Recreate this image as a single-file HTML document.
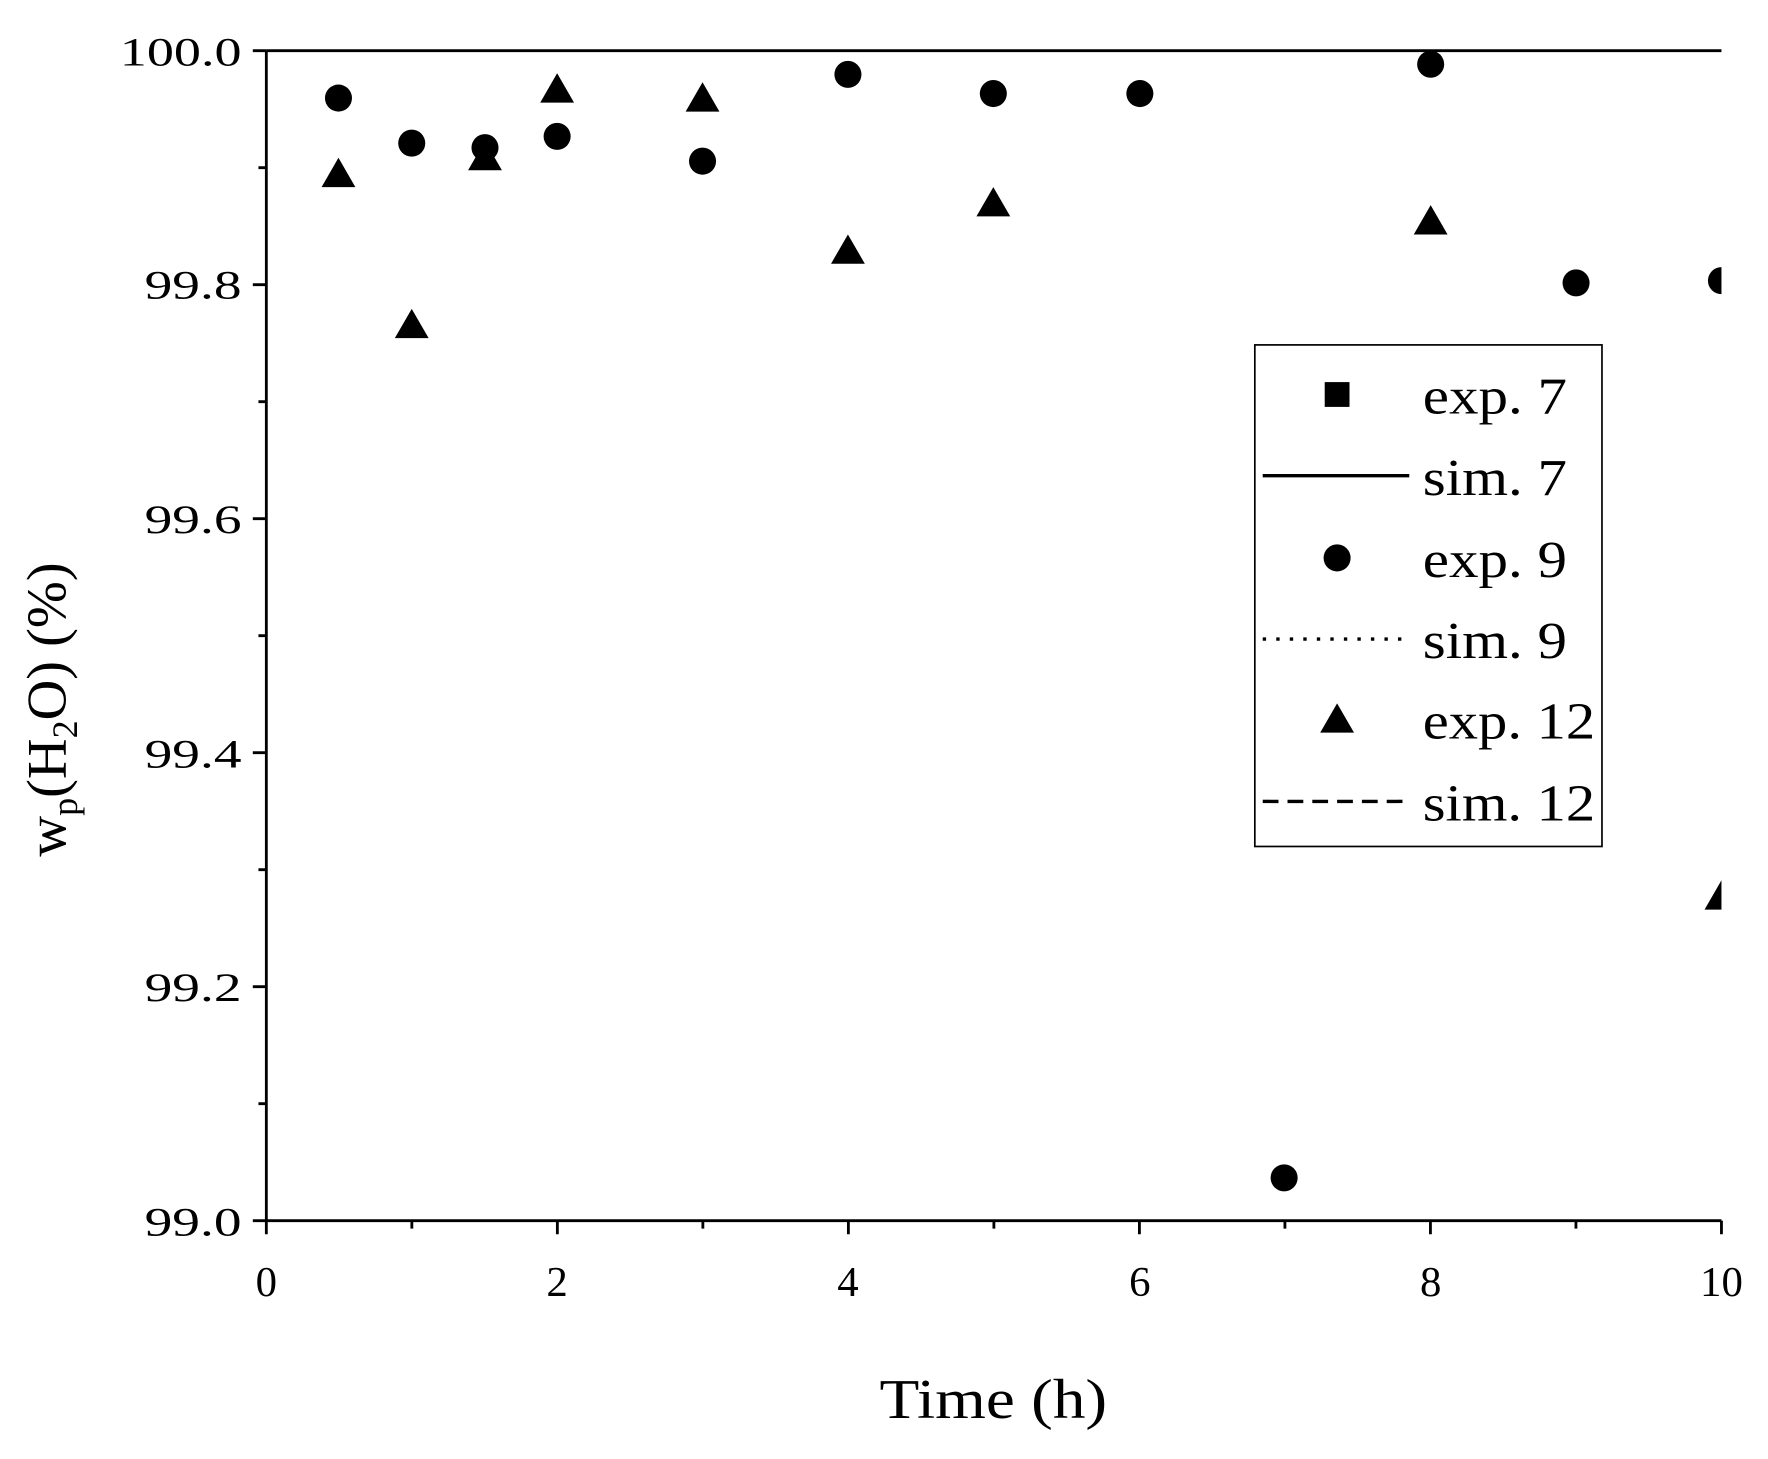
<!DOCTYPE html>
<html><head><style>body{margin:0;background:#fff}</style></head><body>
<svg width="1768" height="1454" viewBox="0 0 1568 1290" xmlns="http://www.w3.org/2000/svg" font-family="Liberation Serif, serif">
<defs><clipPath id="c"><rect x="236" y="20" width="1291" height="1063"/></clipPath>
<symbol id="t" overflow="visible"><polygon points="0,-14 15,12 -15,12" fill="#000"/></symbol></defs>
<g stroke="#000" stroke-width="2.5" fill="none">
<line x1="236" y1="45" x2="1527" y2="45"/>
<line x1="236" y1="45" x2="236" y2="1083"/>
<line x1="236" y1="1083" x2="1527" y2="1083"/>
<path d="M236,45h-12M236,252.6h-12M236,460.2h-12M236,667.8h-12M236,875.4h-12M236,1083h-12M236,148.8h-7M236,356.4h-7M236,564h-7M236,771.6h-7M236,979.2h-7"/>
<path d="M236,1083v12M494.2,1083v12M752.4,1083v12M1010.6,1083v12M1268.8,1083v12M1527,1083v12M365.1,1083v7M623.3,1083v7M881.5,1083v7M1139.7,1083v7M1397.9,1083v7"/>
</g>
<g font-size="36" text-anchor="end" lengthAdjust="spacingAndGlyphs">
<text x="214" y="58" textLength="108" lengthAdjust="spacingAndGlyphs">100.0</text><text x="214" y="265" textLength="86" lengthAdjust="spacingAndGlyphs">99.8</text><text x="214" y="473" textLength="86" lengthAdjust="spacingAndGlyphs">99.6</text><text x="214" y="681" textLength="86" lengthAdjust="spacingAndGlyphs">99.4</text><text x="214" y="888" textLength="86" lengthAdjust="spacingAndGlyphs">99.2</text><text x="214" y="1096" textLength="86" lengthAdjust="spacingAndGlyphs">99.0</text>
</g>
<g font-size="38" text-anchor="middle">
<text x="236" y="1150">0</text><text x="494" y="1150">2</text><text x="752" y="1150">4</text><text x="1011" y="1150">6</text><text x="1269" y="1150">8</text><text x="1527" y="1150">10</text>
</g>
<text x="780" y="1258" font-size="50" textLength="202" lengthAdjust="spacingAndGlyphs">Time (h)</text>
<text transform="translate(58,760) rotate(-90)" font-size="50">w<tspan font-size="32" dy="10">p</tspan><tspan dy="-10">(H</tspan><tspan font-size="32" dy="10">2</tspan><tspan dy="-10">O) (%)</tspan></text>
<g clip-path="url(#c)" fill="#000">
<circle cx="300" cy="87" r="12"/><circle cx="365" cy="127" r="12"/><circle cx="430" cy="131" r="12"/><circle cx="494" cy="121" r="12"/><circle cx="623" cy="143" r="12"/><circle cx="752" cy="66" r="12"/><circle cx="881" cy="83" r="12"/><circle cx="1011" cy="83" r="12"/><circle cx="1139" cy="1045" r="12"/><circle cx="1269" cy="57" r="12"/><circle cx="1398" cy="251" r="12"/><circle cx="1527" cy="249" r="12"/>
<use href="#t" x="300" y="154"/><use href="#t" x="365" y="288"/><use href="#t" x="430" y="139"/><use href="#t" x="494" y="79"/><use href="#t" x="623" y="87"/><use href="#t" x="752" y="222"/><use href="#t" x="881" y="180"/><use href="#t" x="1269" y="196"/><use href="#t" x="1527" y="795"/>
</g>
<rect x="1113" y="306" width="308" height="445" fill="#fff" stroke="#000" stroke-width="1.5"/>
<rect x="1175" y="339" width="22" height="22" fill="#000"/>
<line x1="1120" y1="422" x2="1250" y2="422" stroke="#000" stroke-width="3"/>
<circle cx="1186" cy="495" r="12" fill="#000"/>
<line x1="1120" y1="567" x2="1250" y2="567" stroke="#000" stroke-width="3" stroke-dasharray="3,9"/>
<use href="#t" x="1186" y="638"/>
<line x1="1120" y1="711" x2="1250" y2="711" stroke="#000" stroke-width="3" stroke-dasharray="14,8"/>
<g font-size="46">
<text x="1262" y="367" textLength="128" lengthAdjust="spacingAndGlyphs">exp. 7</text><text x="1262" y="439" textLength="128" lengthAdjust="spacingAndGlyphs">sim. 7</text><text x="1262" y="512" textLength="128" lengthAdjust="spacingAndGlyphs">exp. 9</text><text x="1262" y="584" textLength="128" lengthAdjust="spacingAndGlyphs">sim. 9</text><text x="1262" y="655" textLength="153" lengthAdjust="spacingAndGlyphs">exp. 12</text><text x="1262" y="728" textLength="153" lengthAdjust="spacingAndGlyphs">sim. 12</text>
</g>
</svg>
</body></html>
